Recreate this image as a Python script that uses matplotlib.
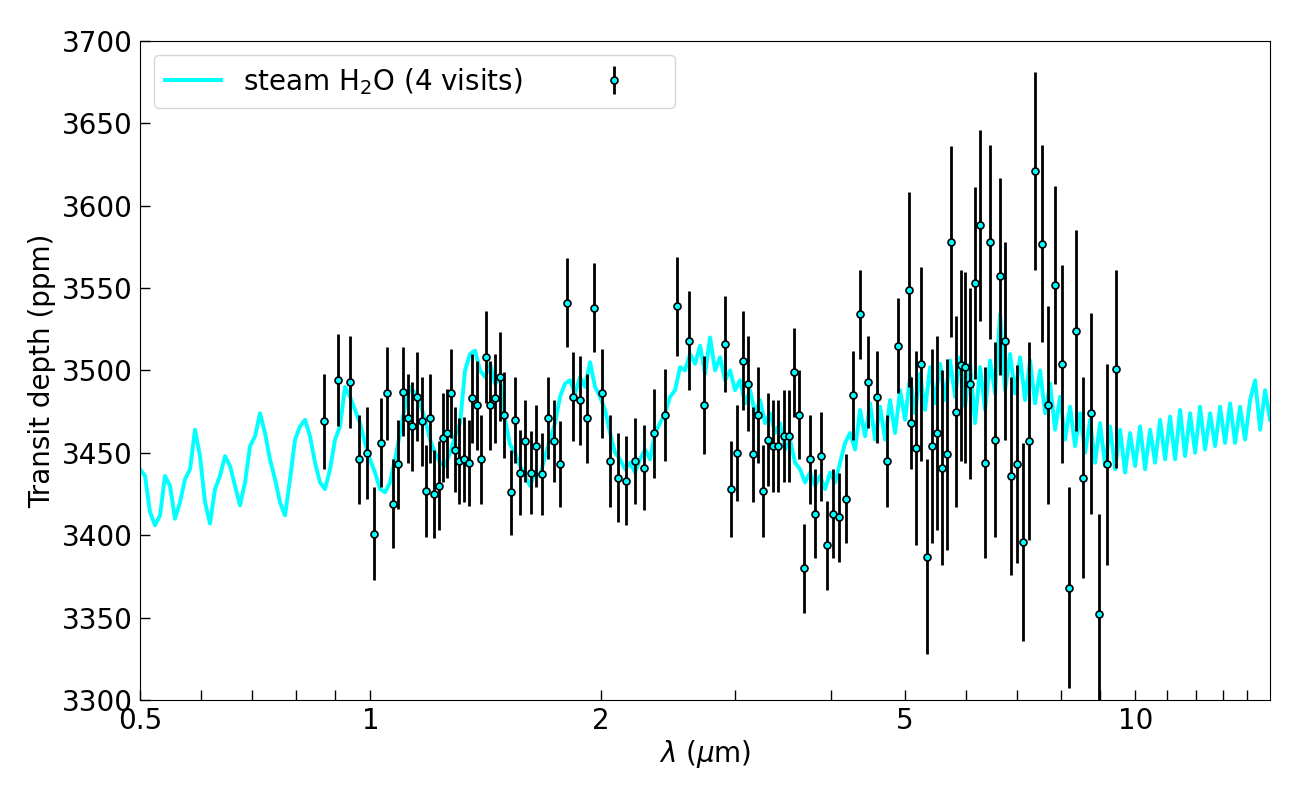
import numpy as np
import matplotlib
matplotlib.use("Agg")
import matplotlib.pyplot as plt
from matplotlib.ticker import FixedLocator, FixedFormatter, NullLocator

wave = [0.870, 0.908, 0.941, 0.967, 0.991, 1.011, 1.033, 1.052, 1.072, 1.087,
        1.105, 1.121, 1.135, 1.151, 1.167, 1.182, 1.198, 1.212, 1.231, 1.246,
        1.260, 1.276, 1.290, 1.307, 1.326, 1.344, 1.358, 1.380, 1.397, 1.417,
        1.434, 1.456, 1.478, 1.495, 1.525, 1.546, 1.569, 1.595, 1.622, 1.648,
        1.678, 1.709, 1.740, 1.772, 1.810, 1.842, 1.880, 1.920, 1.963, 2.011,
        2.060, 2.110, 2.161, 2.219, 2.279, 2.349, 2.428, 2.520, 2.610, 2.731,
        2.909, 2.962, 3.019, 3.070, 3.120, 3.167, 3.215, 3.264, 3.313, 3.363,
        3.415, 3.474, 3.530, 3.583, 3.634, 3.693, 3.757, 3.817, 3.883, 3.950,
        4.022, 4.100, 4.187, 4.276, 4.371, 4.477, 4.600, 4.737, 4.900, 5.065,
        5.095, 5.168, 5.250, 5.346, 5.428, 5.510, 5.589, 5.670, 5.749, 5.837,
        5.919, 5.996, 6.087, 6.179, 6.272, 6.368, 6.464, 6.562, 6.661, 6.764,
        6.881, 7.010, 7.138, 7.270, 7.397, 7.554, 7.697, 7.854, 8.021, 8.200,
        8.374, 8.553, 8.753, 8.974, 9.185, 9.434]
depth = [3469, 3494, 3493, 3446, 3450, 3401, 3456, 3486, 3419, 3443,
         3487, 3471, 3466, 3484, 3469, 3427, 3471, 3425, 3430, 3459,
         3462, 3486, 3452, 3445, 3446, 3444, 3483, 3479, 3446, 3508,
         3479, 3483, 3496, 3473, 3426, 3470, 3438, 3457, 3438, 3454,
         3437, 3471, 3457, 3443, 3541, 3484, 3482, 3471, 3538, 3486,
         3445, 3435, 3433, 3445, 3441, 3462, 3473, 3539, 3518, 3479,
         3516, 3428, 3450, 3506, 3492, 3449, 3473, 3427, 3458, 3454,
         3454, 3460, 3460, 3499, 3473, 3380, 3446, 3413, 3448, 3394,
         3413, 3411, 3422, 3485, 3534, 3493, 3484, 3445, 3515, 3549,
         3468, 3453, 3504, 3387, 3454, 3462, 3441, 3449, 3578, 3475,
         3503, 3502, 3492, 3553, 3588, 3444, 3578, 3458, 3557, 3518,
         3436, 3443, 3396, 3457, 3621, 3577, 3479, 3552, 3504, 3368,
         3524, 3435, 3474, 3352, 3443, 3501]
err = [29, 28, 28, 27, 28, 28, 27, 28, 27, 27,
       27, 27, 27, 27, 27, 28, 27, 27, 27, 27,
       27, 27, 26, 26, 26, 26, 27, 27, 27, 28,
       27, 27, 27, 26, 26, 26, 26, 25, 25, 25,
       25, 25, 25, 26, 27, 27, 27, 27, 27, 27,
       28, 27, 27, 26, 26, 27, 28, 30, 30, 30,
       29, 29, 29, 30, 29, 29, 29, 28, 28, 28,
       28, 28, 28, 27, 27, 27, 27, 27, 27, 27,
       27, 27, 27, 27, 27, 28, 28, 28, 29, 59,
       28, 59, 59, 59, 59, 59, 59, 58, 58, 58,
       58, 58, 58, 58, 58, 58, 59, 59, 60, 60,
       60, 60, 60, 60, 60, 60, 60, 60, 60, 61,
       61, 61, 61, 61, 61, 60]

# steam H2O model, sampled on a log grid from 0.5 to 15 um (227 samples)
model_depth = [
    3440, 3436, 3414, 3406, 3412, 3436, 3430, 3410, 3420, 3434,
    3440, 3464, 3448, 3420, 3407, 3428, 3436, 3448, 3442, 3430,
    3418, 3432, 3454, 3460, 3474, 3462, 3446, 3434, 3420, 3412,
    3434, 3458, 3466, 3470, 3460, 3444, 3432, 3428, 3440, 3458,
    3466, 3490, 3484, 3476, 3468, 3456, 3446, 3438, 3428, 3426,
    3432, 3446, 3462, 3478, 3490, 3486, 3480, 3470, 3458, 3450,
    3444, 3442, 3450, 3460, 3468, 3500, 3510, 3512, 3500, 3496,
    3504, 3492, 3495, 3470, 3455, 3450, 3442, 3436, 3430, 3438,
    3436, 3448, 3458, 3468, 3484, 3492, 3494, 3486, 3496, 3490,
    3505, 3490, 3484, 3476, 3462, 3450, 3446, 3440, 3444, 3438,
    3446, 3452, 3446, 3462, 3468, 3474, 3484, 3488, 3502, 3500,
    3510, 3504, 3515, 3498, 3520, 3500, 3508, 3494, 3500, 3488,
    3494, 3480, 3488, 3474, 3482, 3468, 3474, 3462, 3468, 3452,
    3458, 3444, 3440, 3432, 3438, 3430, 3436, 3428, 3438, 3432,
    3444, 3456, 3462, 3452, 3476, 3460, 3480, 3458, 3478, 3458,
    3482, 3462, 3488, 3470, 3496, 3474, 3498, 3476, 3502, 3480,
    3504, 3482, 3506, 3484, 3508, 3478, 3504, 3468, 3502, 3476,
    3506, 3486, 3534, 3488, 3510, 3486, 3508, 3482, 3506, 3480,
    3500, 3474, 3492, 3464, 3484, 3458, 3478, 3454, 3474, 3450,
    3470, 3444, 3468, 3442, 3466, 3440, 3464, 3438, 3462, 3442,
    3466, 3440, 3464, 3444, 3470, 3446, 3472, 3446, 3476, 3448,
    3474, 3450, 3478, 3452, 3474, 3454, 3478, 3456, 3480, 3456,
    3478, 3458, 3482, 3494, 3464, 3488, 3470]
model_wave = np.geomspace(0.5, 15.0, len(model_depth))

xticks = [0.5, 0.6, 0.7, 0.8, 0.9, 1, 2, 3, 4, 5, 6, 7, 8, 9, 10, 11, 12, 13, 14]
xlabels = ['0.5', '', '', '', '', '1', '2', '', '', '5', '', '', '', '', '10', '', '', '', '']

fig = plt.figure(figsize=(13, 8), dpi=100)
ax = fig.add_axes([0.1077, 0.125, 0.8693, 0.824])

line, = ax.plot(model_wave, model_depth, color='cyan', lw=2.8, zorder=1)
eb = ax.errorbar(wave, depth, yerr=err, fmt='o', ms=5, mfc='cyan', mec='black',
                 mew=1.2, ecolor='black', elinewidth=2, capsize=0, zorder=3)

ax.set_xscale('log')
ax.set_xlim(0.5, 15.0)
ax.set_ylim(3300, 3700)
ax.xaxis.set_major_locator(FixedLocator(xticks))
ax.xaxis.set_major_formatter(FixedFormatter(xlabels))
ax.xaxis.set_minor_locator(NullLocator())
ax.set_yticks(np.arange(3300, 3701, 50))
ax.tick_params(direction='in', length=7.5, width=1, labelsize=20, pad=5)

ax.set_xlabel(r'$\lambda$ ($\mu$m)', fontsize=20, labelpad=2)
ax.set_ylabel('Transit depth (ppm)', fontsize=20)

ax.legend([line, eb], ['steam H$_2$O (4 visits)', ''], ncol=2, loc='upper left',
          fontsize=20, columnspacing=2.3)

fig.savefig('out.png', dpi=100)
